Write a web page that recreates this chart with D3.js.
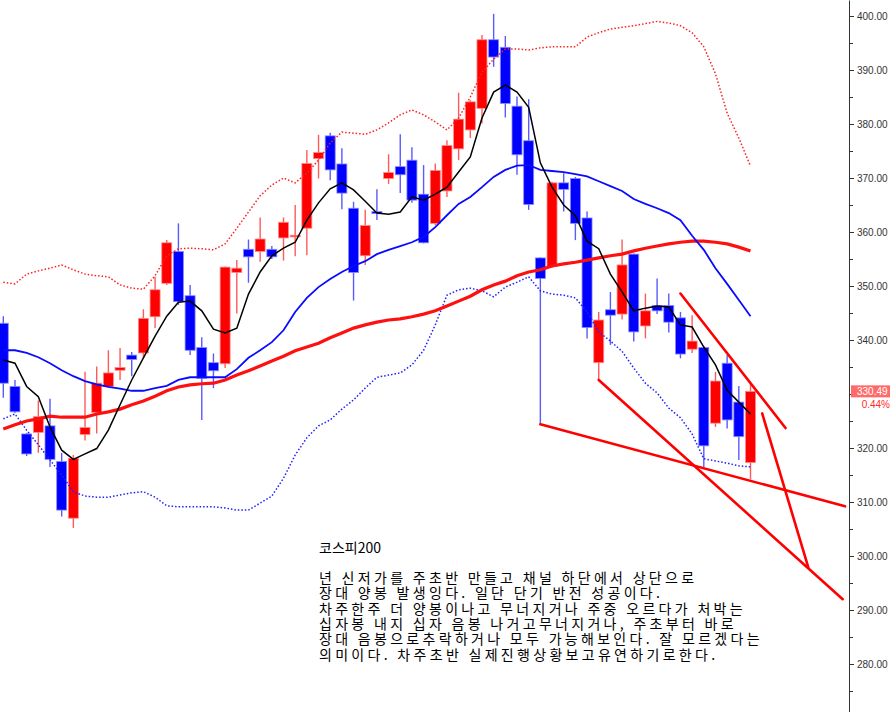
<!DOCTYPE html>
<html>
<head>
<meta charset="utf-8">
<script src="https://cdn.jsdelivr.net/npm/d3@7"></script>
<style>
  body { margin: 0; background: #fff; }
  svg { display: block; }
</style>
</head>
<body>
<svg></svg>
<script>
// 주봉 데이터
const opens  = [343.1,331.4,322.6,322.9,324.1,317.5,307.0,322.5,326.6,331.4,334.4,337.2,337.6,344.3,350.5,356.4,348.2,338.6,335.8,335.6,
                352.5,356.8,356.4,356.8,358.9,359.1,360.7,373.6,377.8,372.6,364.4,355.6,363.8,369.9,372.1,373.3,367.0,361.6,367.6,375.4,
                378.9,382.9,395.6,394.2,383.3,376.9,355.2,353.6,369.1,369.9,362.6,335.8,345.6,344.8,355.9,342.6,346.4,346.4,344.1,338.3,
                338.6,324.6,335.7,328.5,317.3];
const highs  = [344.4,332.6,322.8,328.8,329.1,319.1,318.7,334.1,335.1,338.1,338.5,337.8,345.7,351.7,358.5,361.6,350.2,340.5,337.5,353.6,
                354.8,358.6,362.7,357.4,362.7,365.0,375.2,378.0,378.4,375.5,365.6,364.1,367.9,374.4,378.1,375.7,372.4,372.7,377.0,385.8,
                384.4,396.5,400.4,396.3,385.1,384.6,355.3,369.3,370.9,370.2,363.8,345.2,348.9,358.6,356.0,348.6,351.4,348.6,345.2,344.6,
                338.8,334.1,337.2,331.5,332.0];
const lows   = [329.3,326.5,318.5,319.1,316.5,307.3,305.2,321.4,322.7,331.2,332.6,333.3,336.6,342.2,350.2,346.5,337.2,325.2,331.1,334.8,
                344.9,350.6,354.5,355.0,354.7,355.5,355.7,369.9,369.6,364.2,347.3,353.9,362.2,368.9,367.2,365.4,357.9,361.3,366.5,373.3,
                377.4,380.1,390.6,381.2,370.6,364.1,324.4,353.4,363.8,358.5,340.3,332.6,339.1,343.8,339.7,340.3,344.8,341.4,336.6,337.6,
                316.5,323.9,323.6,317.8,314.2];
const closes = [332.0,326.7,318.9,325.8,317.9,308.5,318.1,323.8,332.0,333.9,334.9,336.4,344.0,349.3,358.0,347.1,338.1,332.9,334.3,353.5,
                353.3,355.4,358.7,355.4,361.8,359.4,372.7,374.7,371.5,367.2,352.5,361.2,363.4,371.0,370.6,365.9,358.0,371.4,376.0,380.9,
                384.1,395.6,392.4,383.8,374.3,365.1,351.4,369.1,367.9,361.6,342.3,343.7,344.6,353.9,341.5,345.4,345.4,343.3,337.4,339.8,
                320.4,332.4,325.2,322.1,330.49];

// 이동평균선 / 볼린저밴드
const maShort = [336.3,335.7,331.4,329.5,323.9,319.6,317.9,318.9,319.9,323.3,328.0,332.6,336.7,340.7,344.4,347.0,347.2,345.4,342.0,341.3,
                 342.2,348.5,352.6,355.6,357.0,358.1,362.2,365.4,368.0,369.1,367.8,365.7,363.5,363.3,363.7,366.5,365.9,367.0,368.3,371.1,
                 373.9,381.1,385.9,387.2,385.9,383.1,372.8,368.3,365.0,363.0,358.3,356.9,352.2,348.9,345.4,345.9,346.3,346.1,342.8,342.4,
                 338.7,335.4,330.7,328.5,326.3];
const ma20 = [338.1,338.1,337.6,336.8,335.7,334.4,333.3,332.4,331.8,331.3,331.0,330.6,330.6,331.1,331.5,332.6,333.1,333.1,333.1,333.1,
              334.6,336.7,338.1,339.6,341.8,345.2,347.8,349.8,351.3,352.6,353.7,354.6,355.9,356.7,357.4,358.1,359.1,360.9,363.1,365.2,
              366.5,368.3,370.2,371.5,372.3,372.4,371.5,371.3,371.1,370.7,370.3,369.4,368.5,367.6,366.1,365.2,364.4,363.5,362.2,359.3,
              356.7,353.3,350.4,347.4,344.4];
const ma60 = [323.5,324.3,325.0,325.4,325.9,325.7,325.7,325.7,326.3,326.7,327.2,328.0,328.7,329.6,330.6,331.3,331.7,331.9,332.0,332.6,
              333.5,334.3,335.2,336.1,337.0,338.0,338.7,339.4,340.4,341.3,342.2,342.8,343.3,343.7,343.9,344.3,344.8,345.4,346.3,347.2,
              348.1,349.3,350.2,350.9,351.9,352.6,353.0,353.7,354.1,354.4,354.8,355.2,355.6,355.9,356.5,357.0,357.4,357.8,358.1,358.3,
              358.3,358.1,357.8,357.2,356.5];
const bbUpper = [350.7,350.4,352.2,352.8,353.3,353.9,353.0,352.2,351.9,351.7,350.2,349.6,349.4,351.9,355.6,356.9,357.0,356.9,356.7,357.8,
                 360.7,363.7,366.7,368.7,370.0,369.1,370.9,373.3,376.5,378.5,378.3,378.1,378.9,380.2,381.7,382.6,381.7,380.4,378.9,381.1,
                 385.0,389.6,392.0,393.9,393.9,393.7,394.1,394.3,394.3,394.3,396.1,396.9,397.6,397.9,398.2,398.6,399.0,398.7,398.2,396.9,
                 394.3,389.3,382.0,377.4,372.2];
const bbLower = [325.4,326.3,323.3,320.6,317.8,315.0,311.9,311.1,310.9,310.9,311.3,311.7,311.9,310.9,309.3,309.1,309.1,309.1,309.1,308.9,
                 308.5,308.5,309.8,311.1,314.4,318.7,321.9,324.1,325.2,327.2,328.9,331.1,333.1,333.5,333.9,335.4,338.1,342.8,348.3,349.3,
                 349.6,349.1,348.0,349.8,350.7,351.7,349.1,348.5,348.3,347.8,345.2,341.5,339.8,337.9,334.8,332.0,330.2,327.4,325.6,322.6,
                 318.0,317.6,317.2,316.7,316.5];

// 추세선 (시작 봉, 가격 → 끝 봉, 가격)
const trendLines = [
  { i1: 46.0, v1: 324.4, i2: 72.1, v2: 309.2 },
  { i1: 51.0, v1: 332.6, i2: 71.9, v2: 292.0 },
  { i1: 58.0, v1: 348.6, i2: 67.0, v2: 323.7 },
  { i1: 65.0, v1: 326.4, i2: 68.95, v2: 297.9 }
];

const majorTicks = [280, 290, 300, 310, 320, 330, 340, 350, 360, 370, 380, 390, 400];
const minorTicks = [275, 285, 295, 305, 315, 325, 335, 345, 355, 365, 375, 385, 395];
const lastPrice = 330.49;
const lastPriceText = "330.49";
const changeText = "0.44%";

const titleText = "코스피200";
const commentLines = [
  "년 신저가를 주초반 만들고 채널 하단에서 상단으로",
  "장대 양봉 발생잉다. 일단 단기 반전 성공이다.",
  "차주한주 더 양봉이나고 무너지거나 주중 오르다가 처박는",
  "십자봉 내지 십자 음봉 나거고무너지거나, 주초부터 바로",
  "장대 음봉으로추락하거나 모두 가능해보인다. 잘 모르겠다는",
  "의미이다. 차주초반 실제진행상황보고유연하기로한다."
];

// 기본 설정
const width = 890, height = 712;
const axisX = 849;
const svg = d3.select("svg").attr("width", width).attr("height", height);
svg.append("rect").attr("width", width).attr("height", height).attr("fill", "#fff");

const x = d3.scaleLinear().domain([0, 64]).range([3.3, 750.5]);
const y = d3.scaleLinear().domain([400, 280]).range([16, 664]);
const yFull = y.copy().domain([y.invert(0), y.invert(height)]).range([0, height]);

svg.append("clipPath").attr("id", "plot")
  .append("rect").attr("x", 0).attr("y", 0).attr("width", axisX).attr("height", height);

const plot = svg.append("g").attr("clip-path", "url(#plot)");

const candles = closes.map((c, i) => ({ i, o: opens[i], h: highs[i], l: lows[i], c, up: c >= opens[i] }));
const bodyW = 10;

// 캔들
const cg = plot.append("g");
cg.selectAll("line.wick").data(candles).enter().append("line")
  .attr("class", "wick")
  .attr("x1", d => x(d.i)).attr("x2", d => x(d.i))
  .attr("y1", d => y(d.h)).attr("y2", d => y(d.l))
  .attr("stroke", d => d.up ? "#ff5a5a" : "#5a5aff")
  .attr("stroke-width", 1.4);
cg.selectAll("rect.body").data(candles).enter().append("rect")
  .attr("class", "body")
  .attr("x", d => x(d.i) - bodyW / 2)
  .attr("y", d => y(Math.max(d.o, d.c)))
  .attr("width", bodyW)
  .attr("height", d => Math.max(1.5, Math.abs(y(d.o) - y(d.c))))
  .attr("fill", d => d.up ? "#ff0000" : "#0000ff")
  .attr("stroke", d => d.up ? "#ff8a8a" : "#8a8aff")
  .attr("stroke-width", 0.8);

// 선들
const line = d3.line().x((d, i) => x(i)).y(d => y(d));

plot.append("path").datum(bbUpper).attr("d", line)
  .attr("fill", "none").attr("stroke", "#ff2020").attr("stroke-width", 1.5).attr("stroke-dasharray", "1.5,2");
plot.append("path").datum(bbLower).attr("d", line)
  .attr("fill", "none").attr("stroke", "#2020ff").attr("stroke-width", 1.5).attr("stroke-dasharray", "1.5,2");
plot.append("path").datum(ma60).attr("d", line)
  .attr("fill", "none").attr("stroke", "#ff1010").attr("stroke-width", 3.2);
plot.append("path").datum(ma20).attr("d", line)
  .attr("fill", "none").attr("stroke", "#0a0aff").attr("stroke-width", 1.8);
plot.append("path").datum(maShort).attr("d", line)
  .attr("fill", "none").attr("stroke", "#000").attr("stroke-width", 1.5);

// 추세선
plot.selectAll("line.trend").data(trendLines).enter().append("line")
  .attr("class", "trend")
  .attr("x1", d => x(d.i1)).attr("y1", d => y(d.v1))
  .attr("x2", d => x(d.i2)).attr("y2", d => y(d.v2))
  .attr("stroke", "#ff0000").attr("stroke-width", 2.6).attr("stroke-linecap", "round");

// 오른쪽 가격축 (330 눈금 글자는 현재가 상자에 가려짐)
const fmt = d3.format(".2f");
const axisG = svg.append("g").attr("transform", `translate(${axisX},0)`);
axisG.call(d3.axisRight(yFull).tickValues(majorTicks)
  .tickFormat(d => d === 330 ? "" : fmt(d)).tickSize(5).tickSizeOuter(0));
axisG.append("g").call(d3.axisRight(yFull).tickValues(minorTicks).tickFormat("").tickSize(4).tickSizeOuter(0))
  .select(".domain").remove();
axisG.selectAll(".domain, .tick line").attr("stroke", "#333");
axisG.selectAll(".tick text")
  .attr("x", 8).attr("fill", "#333")
  .style("font-family", "'Liberation Sans', Arial, sans-serif").style("font-size", "10px");

// 현재가 표시
axisG.append("rect")
  .attr("x", 2).attr("y", y(lastPrice) - 6).attr("width", 41).attr("height", 12)
  .attr("fill", "#ff6b6b");
axisG.append("text")
  .attr("x", 8).attr("y", y(lastPrice) + 4)
  .attr("fill", "#fff").style("font-family", "'Liberation Sans', Arial, sans-serif").style("font-size", "10px")
  .text(lastPriceText);
axisG.append("text")
  .attr("x", 41).attr("y", y(lastPrice) + 17).attr("text-anchor", "end")
  .attr("fill", "#ff2a2a").style("font-family", "'Liberation Sans', Arial, sans-serif").style("font-size", "10px")
  .text(changeText);

// 코멘트
const note = svg.append("g")
  .style("font-family", "'Noto Sans CJK KR', sans-serif")
  .style("font-size", "14px")
  .attr("fill", "#000");
note.append("text").attr("x", 319).attr("y", 553).text(titleText);
note.append("text")
  .attr("x", 319).attr("y", 583)
  .style("letter-spacing", "3.3px")
  .selectAll("tspan").data(commentLines).enter().append("tspan")
  .attr("x", 319)
  .attr("dy", (d, i) => i === 0 ? 0 : 15.3)
  .text(d => d);
</script>
</body>
</html>
